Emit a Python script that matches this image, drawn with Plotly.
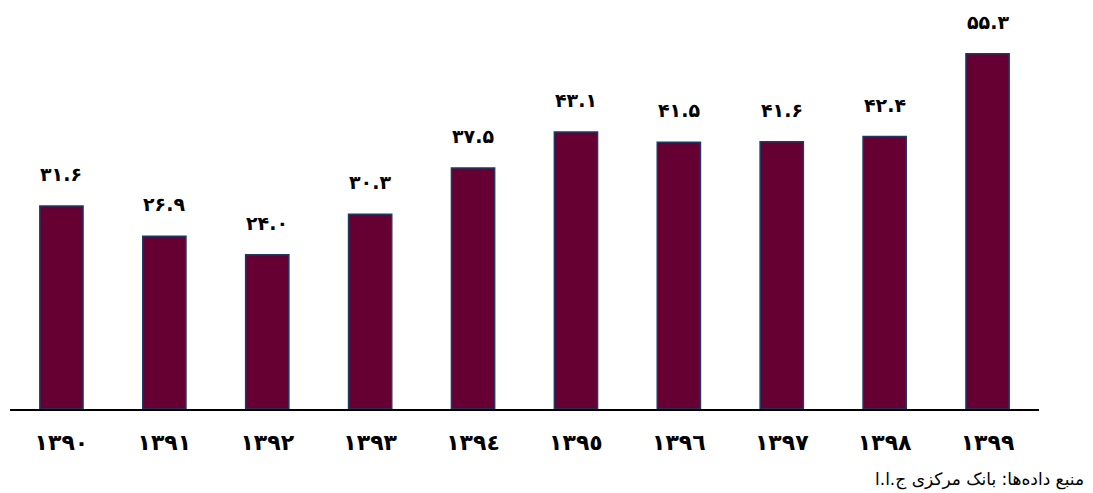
import plotly.graph_objects as go

years = ["۱۳۹۰", "۱۳۹۱", "۱۳۹۲", "۱۳۹۳", "۱۳۹٤", "۱۳۹٥", "۱۳۹٦", "۱۳۹۷", "۱۳۹۸", "۱۳۹۹"]
values = [31.6, 26.9, 24.0, 30.3, 37.5, 43.1, 41.5, 41.6, 42.4, 55.3]
value_labels = ["۳۱.۶", "۲۶.۹", "۲۴.۰", "۳۰.۳", "۳۷.۵", "۴۳.۱", "۴۱.۵", "۴۱.۶", "۴۲.۴", "۵۵.۳"]
source_text = "منبع داده‌ها: بانک مرکزی ج.ا.ا"

fig = go.Figure()
fig.add_trace(go.Bar(
    x=years, y=values,
    marker=dict(color="#660033", line=dict(color="#1F3864", width=1.5)),
    hoverinfo="skip",
))

for x, y, t in zip(years, values, value_labels):
    fig.add_annotation(
        x=x, y=y, text=t, showarrow=False, yanchor="middle", yshift=32,
        font=dict(family="DejaVu Sans", size=19, color="black", weight="bold"),
    )

fig.add_annotation(
    xref="paper", yref="paper", x=1, y=0, xshift=-60, yshift=-70,
    xanchor="center", yanchor="middle", text=source_text, showarrow=False,
    font=dict(family="DejaVu Sans", size=17, color="black"),
)

fig.update_layout(
    width=1093, height=493,
    margin=dict(l=2, r=62, t=2, b=92),
    paper_bgcolor="white", plot_bgcolor="white",
    bargap=0.58, showlegend=False,
    xaxis=dict(
        type="category", categoryorder="array", categoryarray=years,
        range=[-0.5, 9.5],
        showline=True, linecolor="black", linewidth=2, showgrid=False,
        ticks="", ticklabelstandoff=13, tickangle=0,
        tickfont=dict(family="DejaVu Sans", size=22, color="black", weight="bold"),
    ),
    yaxis=dict(range=[0, 62.1], visible=False, showgrid=False, zeroline=False),
)

fig.write_html("out.html")
